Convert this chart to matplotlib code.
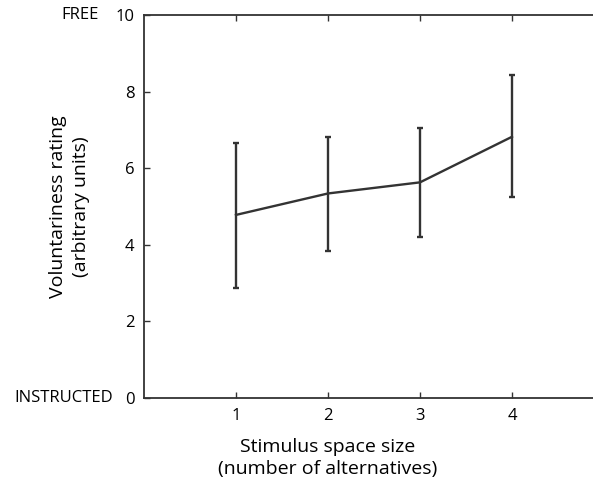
import numpy as np
import matplotlib.pyplot as plt
import matplotlib.transforms as mtransforms

plt.rcParams['font.family'] = ['Open Sans', 'DejaVu Sans']

# data
space_size = [1, 2, 3, 4]
mean_rating = [4.78, 5.34, 5.63, 6.82]
err_upper = [6.66, 6.82, 7.06, 8.44]
err_lower = [2.87, 3.83, 4.21, 5.25]
y_ticks = [0, 2, 4, 6, 8, 10]

line_col = '#333333'

fig = plt.figure(figsize=(5.93, 4.82), dpi=100)
ax = fig.add_axes([0.2428, 0.1743, 0.7757, 0.7946])

yerr = [np.array(mean_rating) - np.array(err_lower),
        np.array(err_upper) - np.array(mean_rating)]
ax.errorbar(space_size, mean_rating, yerr=yerr, color=line_col, lw=1.7,
            elinewidth=1.7, capsize=2.5, capthick=1.7)

ax.set_xlim(0, 5)
ax.set_ylim(0, 10)
ax.set_xticks(space_size)
ax.set_yticks(y_ticks)
ax.tick_params(direction='in', length=4, width=1, color=line_col,
               labelsize=12, pad=7, top=True, right=False)

for s in ax.spines.values():
    s.set_color(line_col)
    s.set_linewidth(1.3)
ax.spines['right'].set_visible(False)

# side labels for the extremes of the scale
tr = mtransforms.blended_transform_factory(fig.transFigure, ax.transData)
ax.text(99 / 593, 10, 'FREE', transform=tr, ha='right', va='center', fontsize=12)
ax.text(113 / 593, 0, 'INSTRUCTED', transform=tr, ha='right', va='center', fontsize=12)

ax.set_ylabel('Voluntariness rating\n(arbitrary units)', fontsize=14, labelpad=18,
              linespacing=1.35)
ax.set_xlabel('Stimulus space size\n(number of alternatives)', fontsize=14,
              linespacing=1.25)
ax.xaxis.set_label_coords(2, -0.105,
                          transform=mtransforms.blended_transform_factory(ax.transData, ax.transAxes))

fig.savefig('out.png', dpi=100)
